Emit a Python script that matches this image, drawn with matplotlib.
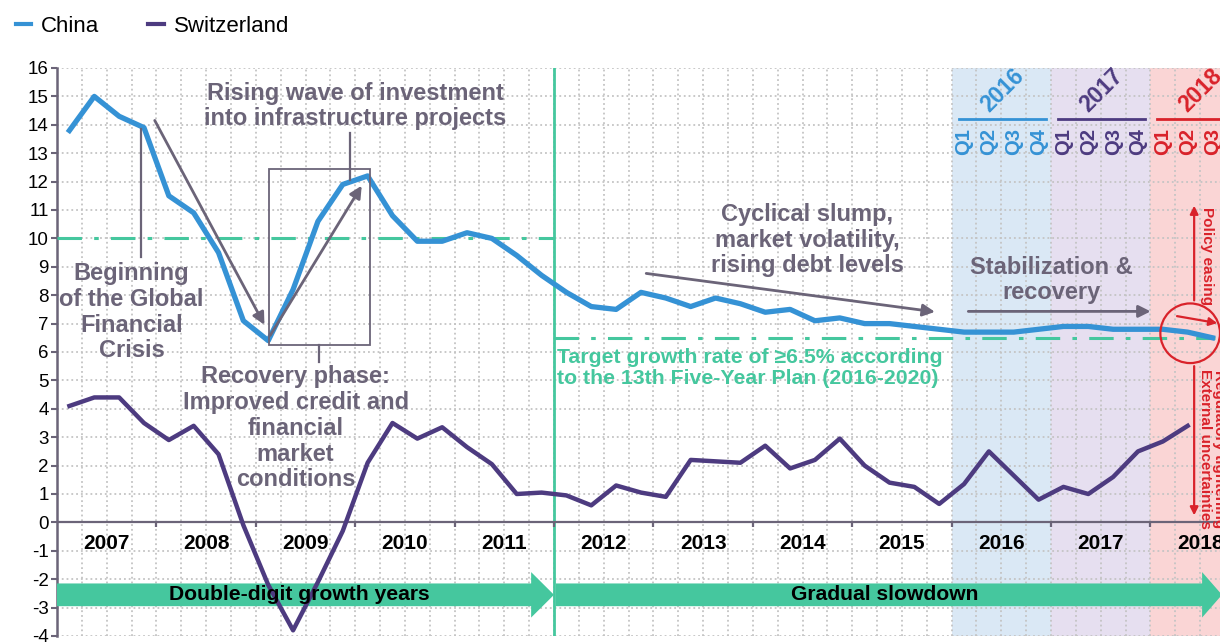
import numpy as np
import matplotlib.pyplot as plt
from matplotlib.patches import FancyArrow, Rectangle, Ellipse

plt.rcParams['font.family'] = ['Liberation Sans', 'DejaVu Sans']
plt.rcParams['axes.unicode_minus'] = False

# quarterly real GDP growth, yoy %, starting 2007 Q1
START_YEAR = 2007
china = [13.8, 15.0, 14.3, 13.9, 11.5, 10.9, 9.5, 7.1,
         6.4, 8.2, 10.6, 11.9, 12.2, 10.8, 9.9, 9.9,
         10.2, 10.0, 9.4, 8.7, 8.1, 7.6, 7.5, 8.1,
         7.9, 7.6, 7.9, 7.7, 7.4, 7.5, 7.1, 7.2,
         7.0, 7.0, 6.9, 6.8, 6.7, 6.7, 6.7, 6.8,
         6.9, 6.9, 6.8, 6.8, 6.8, 6.7, 6.5]
switzerland = [4.1, 4.4, 4.4, 3.5, 2.9, 3.4, 2.4, -0.1,
               -2.2, -3.8, -2.1, -0.3, 2.1, 3.5, 2.95, 3.35,
               2.65, 2.05, 1.0, 1.05, 0.95, 0.6, 1.3, 1.05,
               0.9, 2.2, 2.15, 2.1, 2.7, 1.9, 2.2, 2.95,
               2.0, 1.4, 1.25, 0.65, 1.35, 2.5, 1.65, 0.8,
               1.25, 1.0, 1.6, 2.5, 2.85, 3.4]
year_labels = [str(y) for y in range(2007, 2019)]
quarter_labels = ['Q1', 'Q2', 'Q3', 'Q4']
phase_labels = ['Double-digit growth years', 'Gradual slowdown']

BLUE = '#3592d5'
PURPLE = '#4d3b80'
GREEN = '#45c79e'
GREY = '#6b6478'
RED = '#d9222a'

fig = plt.figure(figsize=(12.2, 6.42), dpi=100)
ax = fig.add_axes([57 / 1220, 6 / 642, 1 - 57 / 1220, 568 / 642])

x_ch = START_YEAR + (np.arange(len(china)) + 0.5) / 4
x_sw = START_YEAR + (np.arange(len(switzerland)) + 0.5) / 4

# shaded recent years
ax.axvspan(2016, 2017, color='#dae8f5', lw=0, zorder=0)
ax.axvspan(2017, 2018, color='#e6dff0', lw=0, zorder=0)
ax.axvspan(2018, 2019, color='#fad5d5', lw=0, zorder=0)

ax.plot(x_ch, china, color=BLUE, lw=3.8, solid_joinstyle='round', zorder=4, label='China')
ax.plot(x_sw, switzerland, color=PURPLE, lw=3.2, solid_joinstyle='round', zorder=4, label='Switzerland')

# reference lines
ax.plot([2007, 2012], [10, 10], color=GREEN, lw=2.2, ls=(0, (8, 4, 1.5, 4)), zorder=3)
ax.plot([2012, 2018.65], [6.5, 6.5], color=GREEN, lw=2.2, ls=(0, (8, 4, 1.5, 4)), zorder=3)
ax.axvline(2012, color=GREEN, lw=2, zorder=3)
ax.axhline(0, color=GREY, lw=1.6, zorder=3)
ax.vlines(np.arange(2008, 2019), -0.17, 0, color=GREY, lw=1.6, zorder=3)

ax.set_xlim(2007, 2018.7)
ax.set_ylim(-4, 16)
ax.set_yticks(np.arange(-4, 17))
ax.set_xticks(np.arange(2007, 2018.75, 0.25))
ax.set_xticklabels([])
ax.tick_params(axis='x', length=0)
ax.tick_params(axis='y', labelsize=13.5, length=4, width=1.5, color=GREY, pad=2)
ax.grid(True, color='#c4c4c4', ls=':', lw=1.3)
ax.set_axisbelow(True)
for s in ['top', 'right', 'bottom']:
    ax.spines[s].set_visible(False)
ax.spines['left'].set_color(GREY)
ax.spines['left'].set_linewidth(1.8)

for i, lab in enumerate(year_labels):
    ax.text(2007.5 + i, -0.75, lab, ha='center', va='center', fontsize=15,
            fontweight='bold', color='black', zorder=5)

# phase arrows
ax.add_patch(FancyArrow(2007, -2.55, 5, 0, width=0.8, head_width=1.6, head_length=0.23,
                        length_includes_head=True, color=GREEN, lw=0, zorder=3))
ax.add_patch(FancyArrow(2012.02, -2.55, 6.7, 0, width=0.8, head_width=1.6, head_length=0.2,
                        length_includes_head=True, color=GREEN, lw=0, zorder=3))
ax.text(2009.44, -2.55, phase_labels[0], ha='center', va='center', fontsize=15.2,
        fontweight='bold', color='black', zorder=5)
ax.text(2015.33, -2.55, phase_labels[1], ha='center', va='center', fontsize=15.2,
        fontweight='bold', color='black', zorder=5)

# annotations
ann = dict(color=GREY, fontsize=17, fontweight='bold', ha='center', va='center',
           linespacing=1.15, zorder=6)
ax.text(2007.75, 7.4, 'Beginning\nof the Global\nFinancial\nCrisis', **ann)
ax.plot([2007.85, 2007.85], [13.85, 9.35], color=GREY, lw=1.6, zorder=5)
ax.annotate('', xy=(2009.1, 6.87), xytext=(2007.97, 14.24),
            arrowprops=dict(arrowstyle='-|>', color=GREY, lw=2, mutation_scale=18), zorder=5)
ax.annotate('', xy=(2010.08, 11.94), xytext=(2009.13, 6.5),
            arrowprops=dict(arrowstyle='-|>', color=GREY, lw=2, mutation_scale=18), zorder=5)
ax.add_patch(Rectangle((2009.13, 6.24), 1.02, 6.2, fill=False, ec=GREY, lw=1.3, zorder=5))
ax.plot([2009.64, 2009.64], [6.24, 5.64], color=GREY, lw=1.6, zorder=5)
ax.plot([2009.95, 2009.95], [13.7, 12.05], color=GREY, lw=1.6, zorder=5)
ax.text(2010.0, 14.66, 'Rising wave of investment\ninto infrastructure projects', **ann)
ax.text(2009.4, 3.31, 'Recovery phase:\nImproved credit and\nfinancial\nmarket\nconditions', **ann)
ax.text(2014.55, 9.94, 'Cyclical slump,\nmarket volatility,\nrising debt levels', **ann)
ax.annotate('', xy=(2015.86, 7.4), xytext=(2012.9, 8.78),
            arrowprops=dict(arrowstyle='-|>', color=GREY, lw=2, mutation_scale=18), zorder=5)
ax.text(2017.0, 8.53, 'Stabilization &\nrecovery', **ann)
ax.annotate('', xy=(2018.03, 7.43), xytext=(2016.14, 7.43),
            arrowprops=dict(arrowstyle='-|>', color=GREY, lw=2, mutation_scale=18), zorder=5)
ax.text(2012.03, 5.44, 'Target growth rate of \u22656.5% according\nto the 13th Five-Year Plan (2016-2020)',
        color=GREEN, fontsize=15.3, fontweight='bold', ha='left', va='center',
        linespacing=1.1, zorder=6)

# quarter headers for 2016-2018
for year, col, nq in [(2016, BLUE, 4), (2017, PURPLE, 4), (2018, RED, 3)]:
    ax.text(year + 0.51, 15.2, str(year), rotation=45, color=col, fontsize=16.5,
            fontweight='bold', ha='center', va='center', zorder=6)
    ax.plot([year + 0.07, year + 0.95], [14.2, 14.2], color=col, lw=2, zorder=6,
            clip_on=False)
    for q in range(nq):
        ax.text(year + 0.125 + q * 0.25, 13.4, quarter_labels[q], rotation=90, color=col,
                fontsize=14.5, fontweight='bold', ha='center', va='center', zorder=6)

# red annotations for 2018
ax.add_patch(Ellipse((2018.4, 6.66), 0.6, 2.1, fill=False, ec=RED, lw=1.6, zorder=6))
ax.annotate('', xy=(2018.44, 11.25), xytext=(2018.44, 7.72),
            arrowprops=dict(arrowstyle='-|>', color=RED, lw=1.6, mutation_scale=12), zorder=6)
ax.annotate('', xy=(2018.44, 0.15), xytext=(2018.44, 5.6),
            arrowprops=dict(arrowstyle='-|>', color=RED, lw=1.6, mutation_scale=12), zorder=6)
ax.annotate('', xy=(2018.7, 7.0), xytext=(2018.24, 7.28),
            arrowprops=dict(arrowstyle='-|>', color=RED, lw=1.6, mutation_scale=12), zorder=6)
ax.text(2018.57, 11.1, 'Policy easing', rotation=270, color=RED, fontsize=11,
        fontweight='bold', ha='center', va='top', zorder=6)
ax.text(2018.62, 5.4, 'Regulatory tightening\nExternal uncertainties', rotation=270, color=RED,
        fontsize=11, fontweight='bold', ha='center', va='top', linespacing=1.05, zorder=6)

fig.legend(loc='upper left', bbox_to_anchor=(0.0, 1.0), ncol=2, frameon=False,
           fontsize=16, handlelength=0.7, handletextpad=0.45, columnspacing=2.2,
           borderaxespad=0.3)
for h in fig.legends[0].get_lines():
    h.set_linewidth(3)

fig.savefig('out.png', dpi=100)
